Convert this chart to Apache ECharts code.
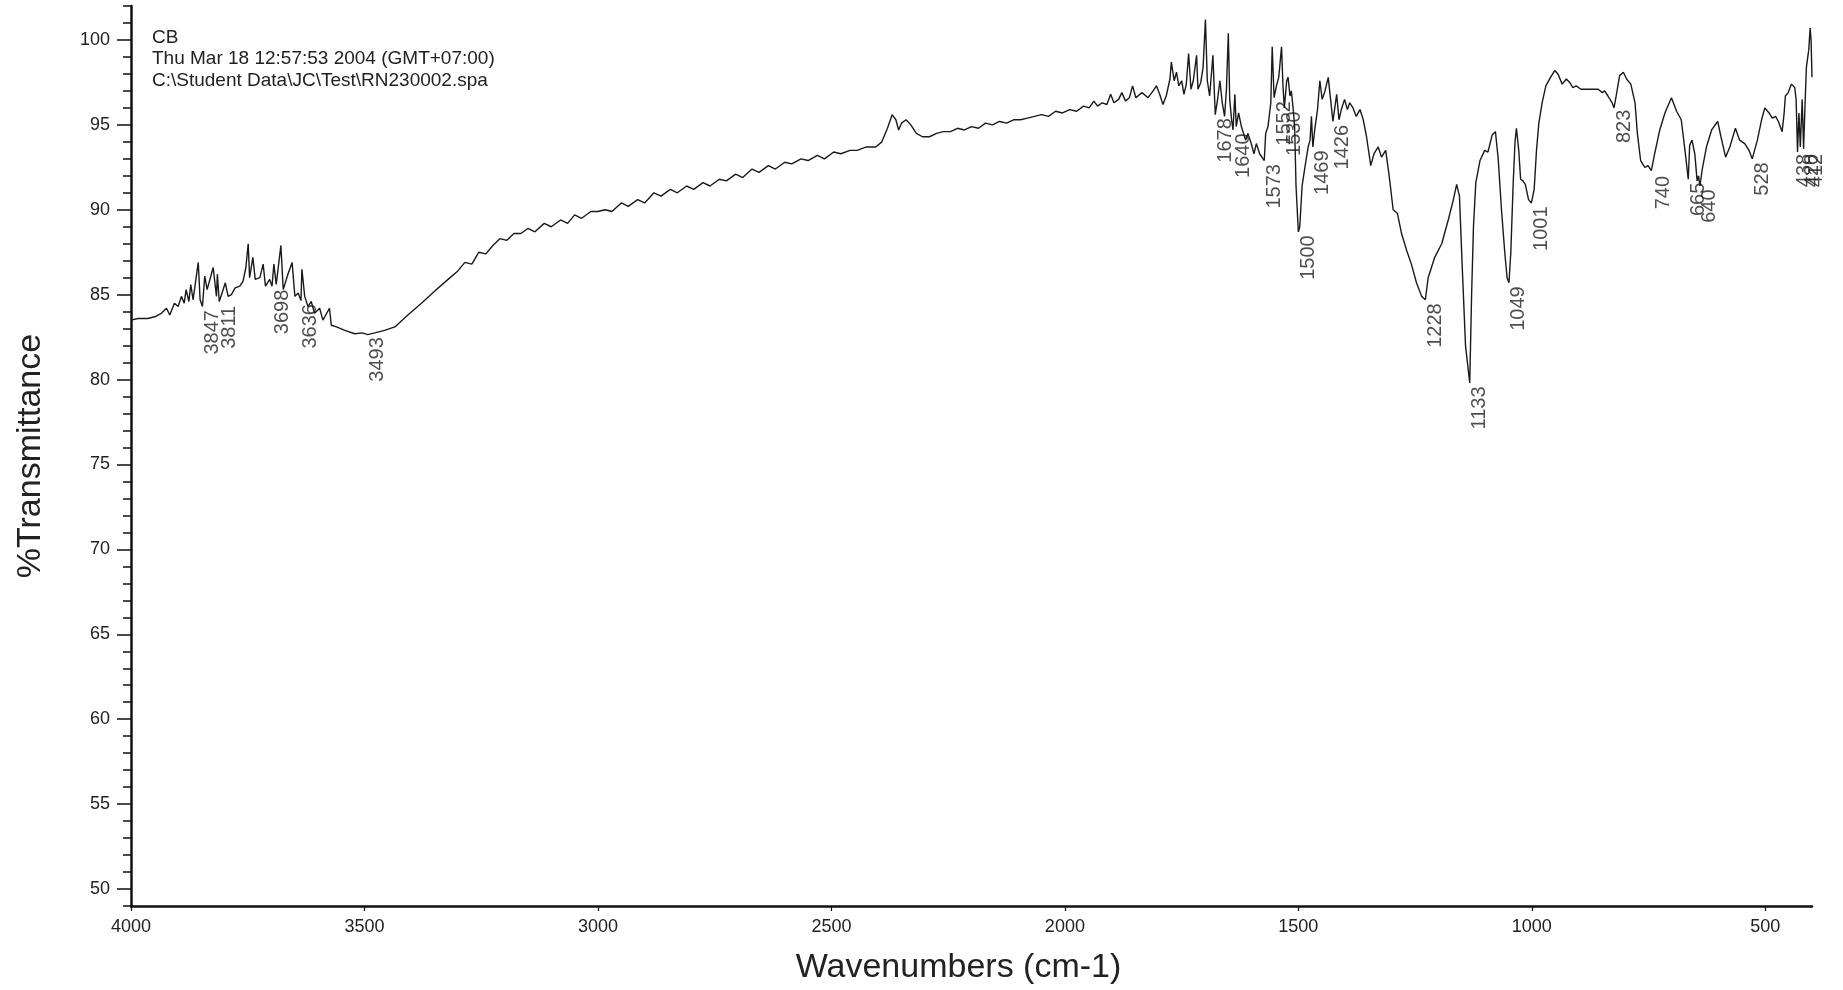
<!DOCTYPE html>
<html><head><meta charset="utf-8">
<script src="https://cdn.jsdelivr.net/npm/echarts@6/dist/echarts.min.js"></script>
<style>html,body{margin:0;padding:0;background:#fff}#c{width:1843px;height:990px}</style>
</head><body><div id="c"></div>
<script>
// ---- tick labels ----
const X_TICKS = [4000, 3500, 3000, 2500, 2000, 1500, 1000, 500];
const Y_TICKS = [50, 55, 60, 65, 70, 75, 80, 85, 90, 95, 100];
const HEADER_LINES = ['CB', 'Thu Mar 18 12:57:53 2004 (GMT+07:00)', 'C:\\Student Data\\JC\\Test\\RN230002.spa'];

// ---- spectrum, [wavenumber cm-1, %T] ----
const SPEC_4000_3330 = [
[4000,83.5],[3985,83.6],[3964,83.6],[3949,83.7],[3935,83.9],[3924,84.2],[3917,83.8],[3907,84.5],[3899,84.3],[3892,84.9],[3886,84.5],[3882,85.3],[3876,84.6],[3872,85.6],[3867,84.7],[3856,86.9],[3852,84.7],[3847,84.3],[3842,86.1],[3837,85.3],[3824,86.6],[3817,84.9],[3815,86.2],[3811,84.6],[3805,85.1],[3798,85.7],[3792,84.9],[3785,85.0],[3777,85.4],[3767,85.5],[3760,85.8],[3754,86.6],[3749,88.0],[3746,86.0],[3739,87.2],[3734,85.9],[3724,86.0],[3717,86.8],[3712,85.5],[3703,85.9],[3698,85.5],[3694,86.8],[3689,85.6],[3679,87.9],[3674,85.3],[3664,86.2],[3655,86.9],[3649,84.9],[3642,85.1],[3636,84.65],[3634,86.5],[3628,84.9],[3621,84.3],[3614,84.6],[3607,83.9],[3596,84.2],[3589,83.5],[3575,84.2],[3571,83.2],[3560,83.1],[3542,82.9],[3521,82.7],[3505,82.75],[3493,82.65],[3478,82.75],[3457,82.9],[3435,83.1],[3407,83.8],[3378,84.5],[3350,85.2]
];
const SPEC_3330_1850 = [
[3321,85.9],[3300,86.4],[3285,86.9],[3270,86.8],[3255,87.5],[3240,87.4],[3225,87.9],[3210,88.3],[3195,88.2],[3180,88.6],[3165,88.6],[3150,88.9],[3135,88.7],[3115,89.2],[3100,89.0],[3080,89.4],[3065,89.2],[3050,89.7],[3035,89.5],[3015,89.9],[3000,89.9],[2985,90.0],[2970,89.9],[2950,90.4],[2935,90.2],[2915,90.6],[2900,90.4],[2880,91.0],[2865,90.8],[2845,91.2],[2830,91.0],[2810,91.4],[2795,91.2],[2775,91.6],[2760,91.4],[2740,91.8],[2725,91.7],[2705,92.1],[2690,91.9],[2670,92.4],[2655,92.2],[2635,92.6],[2620,92.4],[2600,92.8],[2585,92.7],[2565,93.0],[2550,92.9],[2530,93.2],[2515,93.0],[2495,93.4],[2480,93.3],[2460,93.5],[2445,93.5],[2425,93.7],[2405,93.7],[2392,94.0],[2380,94.8],[2370,95.6],[2362,95.3],[2356,94.7],[2350,95.1],[2340,95.3],[2330,95.0],[2318,94.5],[2305,94.3],[2290,94.3],[2275,94.5],[2260,94.6],[2245,94.6],[2230,94.8],[2215,94.7],[2200,94.9],[2185,94.8],[2170,95.1],[2155,95.0],[2140,95.2],[2125,95.1],[2110,95.3],[2095,95.3],[2080,95.4],[2065,95.5],[2050,95.6],[2035,95.5],[2020,95.8],[2005,95.7],[1990,95.9],[1975,95.8],[1960,96.1],[1948,96.0],[1938,96.4],[1930,96.1],[1920,96.3],[1910,96.2],[1902,96.8],[1895,96.3],[1885,96.5],[1878,96.9],[1870,96.4],[1862,96.6],[1855,97.3],[1848,96.6],[1835,96.9]
];
const SPEC_1850_1000 = [
[1822,96.6],[1811,97.0],[1804,97.3],[1797,96.8],[1790,96.2],[1783,96.7],[1775,97.7],[1772,98.7],[1766,97.6],[1761,98.1],[1756,97.3],[1750,97.6],[1745,96.8],[1740,97.4],[1735,99.2],[1730,97.1],[1725,97.6],[1718,99.1],[1715,97.1],[1709,97.5],[1704,98.4],[1699,101.2],[1695,97.6],[1690,96.7],[1683,99.1],[1678,95.6],[1673,96.5],[1668,97.6],[1663,96.3],[1658,95.5],[1654,97.1],[1650,100.4],[1647,96.5],[1643,95.3],[1640,94.7],[1636,96.8],[1633,94.9],[1628,95.7],[1622,94.9],[1613,94.1],[1608,94.5],[1601,93.9],[1595,93.3],[1590,93.9],[1583,93.3],[1573,92.9],[1570,94.5],[1565,94.9],[1559,96.3],[1556,99.6],[1552,96.6],[1547,97.3],[1542,97.8],[1536,99.6],[1533,97.3],[1530,96.0],[1525,97.6],[1522,97.8],[1518,96.7],[1515,97.0],[1511,95.9],[1508,94.9],[1505,91.4],[1500,88.7],[1497,89.0],[1492,91.4],[1486,92.5],[1479,93.7],[1475,94.1],[1472,95.5],[1469,93.7],[1465,94.7],[1459,95.9],[1454,97.6],[1449,96.5],[1443,97.0],[1436,97.8],[1431,96.5],[1426,95.2],[1418,96.8],[1413,95.3],[1408,95.9],[1401,96.5],[1395,95.9],[1390,96.3],[1383,96.0],[1376,95.5],[1368,95.9],[1361,95.3],[1354,94.3],[1345,92.6],[1338,93.3],[1329,93.7],[1322,93.1],[1313,93.5],[1306,92.1],[1297,90.0],[1288,89.8],[1279,88.6],[1268,87.6],[1258,86.8],[1247,85.7],[1236,84.9],[1228,84.7],[1222,86.0],[1208,87.2],[1193,88.0],[1179,89.4],[1168,90.6],[1161,91.5],[1155,90.8],[1149,86.6],[1142,82.0],[1133,79.8],[1129,85.0],[1125,89.0],[1120,91.6],[1111,92.9],[1101,93.5],[1094,93.4],[1085,94.4],[1078,94.6],[1072,93.0],[1065,90.0],[1058,87.5],[1053,86.0],[1049,85.7],[1045,87.5],[1040,91.5],[1036,94.0],[1033,94.8],[1028,93.5],[1024,91.8],[1019,91.7],[1014,91.5],[1007,90.6],[1001,90.4]
];
const SPEC_1000_400 = [
[995,91.2],[990,93.5],[985,95.1],[978,96.3],[970,97.3],[960,97.8],[951,98.2],[944,98.0],[935,97.4],[926,97.7],[919,97.5],[912,97.2],[905,97.3],[895,97.1],[883,97.1],[869,97.1],[858,97.1],[849,96.9],[844,97.0],[837,96.7],[828,96.3],[824,96.0],[820,96.6],[812,97.9],[804,98.1],[797,97.7],[788,97.4],[779,96.3],[774,94.5],[767,92.9],[758,92.5],[751,92.6],[744,92.3],[740,92.2],[737,93.3],[726,94.7],[715,95.7],[701,96.6],[690,95.8],[680,95.3],[672,93.5],[665,91.8],[662,93.8],[657,94.1],[651,93.3],[646,91.7],[643,92.0],[640,91.4],[635,92.4],[626,93.7],[615,94.7],[602,95.2],[595,94.3],[585,93.1],[576,93.7],[564,94.8],[555,94.1],[544,93.9],[535,93.5],[528,93.0],[517,94.1],[508,95.3],[501,96.0],[492,95.7],[485,95.4],[478,95.5],[472,95.2],[464,94.6],[460,95.6],[457,96.7],[451,96.9],[444,97.4],[440,97.3],[437,97.2],[434,96.5],[431,93.4],[428,95.7],[425,93.7],[421,96.5],[418,93.6],[415,96.1],[412,98.4],[407,99.4],[404,100.7],[402,100.0],[400,97.8]
];

// ---- labelled peaks ----
const PEAK_W = [3847, 3811, 3698, 3636, 3493, 1678, 1640, 1573, 1552, 1530, 1500, 1469, 1426, 1228, 1133, 1049, 1001, 823, 740, 665, 640, 528, 438, 420, 412];
const PEAK_T = [84.3, 84.55, 85.5, 84.65, 82.7, 95.6, 94.7, 92.9, 96.6, 96.0, 88.7, 93.7, 95.2, 84.7, 79.8, 85.7, 90.4, 96.1, 92.2, 91.8, 91.4, 93.0, 93.5, 93.5, 93.5];

const FONT = "'Liberation Sans', Arial, Helvetica, sans-serif";
const SPEC = [].concat(SPEC_4000_3330, SPEC_3330_1850, SPEC_1850_1000, SPEC_1000_400);
const minorTicks = [];
for (let v = 49; v <= 102; v++) minorTicks.push(v);

const chart = echarts.init(document.getElementById('c'), null, {renderer: 'canvas'});
chart.setOption({
  backgroundColor: '#ffffff',
  animation: false,
  title: {
    text: HEADER_LINES.join('\n'), left: 147, top: 22,
    textStyle: {fontSize: 19, lineHeight: 21.5, fontWeight: 'normal', color: '#222', fontFamily: FONT}
  },
  grid: {left: 131, right: 31, top: 6, bottom: 84},
  xAxis: {
    type: 'value', inverse: true, min: 400, max: 4000,
    name: 'Wavenumbers (cm-1)', nameLocation: 'middle', nameGap: 45,
    nameTextStyle: {fontSize: 34, color: '#222', fontFamily: FONT, padding: [0, 26, 0, 0]},
    axisLine: {onZero: false, lineStyle: {color: '#111', width: 2.5}},
    axisTick: {customValues: X_TICKS, length: 5, lineStyle: {color: '#111', width: 1.2}},
    axisLabel: {customValues: X_TICKS, fontSize: 18, color: '#222', margin: 12, fontFamily: FONT,
      formatter: v => String(v)},
    splitLine: {show: false}
  },
  yAxis: [{
    type: 'value', min: 49, max: 102, position: 'left',
    name: '%Transmittance', nameLocation: 'middle', nameGap: 83, nameRotate: 90,
    nameTextStyle: {fontSize: 34, color: '#222', fontFamily: FONT},
    axisLine: {show: true, onZero: false, lineStyle: {color: '#111', width: 2.5}},
    axisTick: {show: true, customValues: minorTicks, length: 8, lineStyle: {color: '#111', width: 1.5}},
    axisLabel: {show: false},
    splitLine: {show: false}
  }, {
    type: 'value', min: 49, max: 102, position: 'left',
    axisLine: {show: false},
    axisTick: {show: true, customValues: Y_TICKS, length: 14, lineStyle: {color: '#111', width: 1.5}},
    axisLabel: {customValues: Y_TICKS, fontSize: 18, color: '#222', margin: 21, fontFamily: FONT,
      formatter: v => String(v)},
    splitLine: {show: false}
  }],
  series: [{
    type: 'line', data: SPEC, showSymbol: false, symbol: 'none', silent: true, clip: false,
    lineStyle: {color: '#1a1a1a', width: 1.4}
  }, {
    type: 'scatter', symbolSize: 1, silent: true,
    itemStyle: {color: 'rgba(0,0,0,0)'},
    data: PEAK_W.map((w, i) => ({value: [w, PEAK_T[i]], name: String(w)})),
    label: {
      show: true, position: 'bottom', distance: 3, rotate: 90,
      align: 'right', verticalAlign: 'top',
      formatter: p => p.name, fontSize: 20, color: '#222', fontFamily: FONT
    }
  }]
});
</script>
</body></html>
